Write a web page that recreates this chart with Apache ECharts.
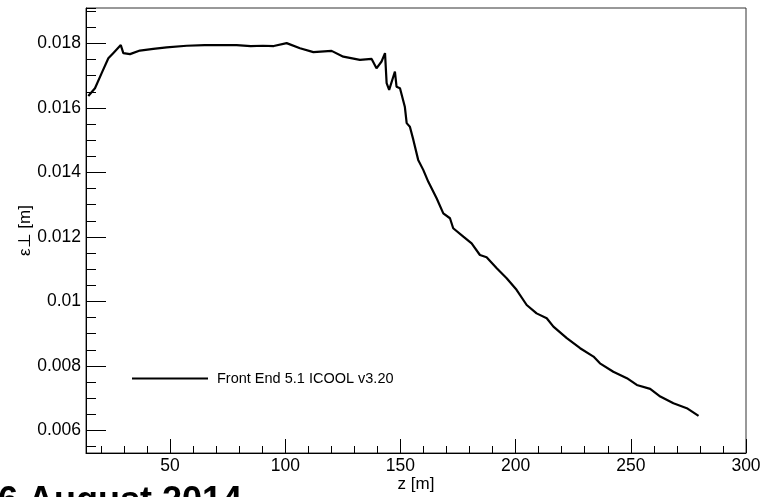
<!DOCTYPE html>
<html><head><meta charset="utf-8">
<script src="https://cdn.jsdelivr.net/npm/echarts@6/dist/echarts.min.js"></script>
<style>html,body{margin:0;padding:0;background:#fff;overflow:hidden}#c{width:769px;height:497px}</style>
</head><body><div id="c"></div>
<script>
const zValues = [14.5,17.4,20.3,23.2,25.3,28.6,29.7,32.6,36.9,42.7,48.5,57.2,65,78.9,85,90.3,95,100.6,106.4,112.2,120.1,125.2,132.4,137.5,139.6,141.8,143.3,144.0,145.1,147.6,148.3,149.8,151.9,152.7,154.1,155.6,157.7,159.9,162.1,165.7,168.6,171.5,172.9,177.3,180.9,184.5,187.4,191.8,196.1,200.4,204.8,209.1,213.5,216.4,222.2,228.0,233.8,236.6,242.4,248.3,252.6,258.4,262.8,268.5,274.3,279.4];
const emittance = [0.01637,0.01661,0.01708,0.01754,0.01770,0.01795,0.01770,0.01767,0.01778,0.01783,0.01788,0.01793,0.01795,0.01795,0.01792,0.01793,0.01792,0.01801,0.01785,0.01773,0.01777,0.01759,0.01749,0.01752,0.01723,0.01744,0.01770,0.01677,0.01656,0.01713,0.01666,0.01661,0.01604,0.01553,0.01542,0.01501,0.01439,0.01408,0.01371,0.01320,0.01273,0.01258,0.01227,0.01201,0.01180,0.01144,0.01137,0.01103,0.01072,0.01036,0.00989,0.00963,0.00948,0.00922,0.00886,0.00855,0.00829,0.00808,0.00782,0.00762,0.00741,0.00729,0.00705,0.00684,0.00669,0.00645];
const xTickLabels = [50,100,150,200,250,300];
const yTickLabels = [0.006,0.008,0.01,0.012,0.014,0.016,0.018];
const seriesName = 'Front End 5.1 ICOOL v3.20';

const FONT = '"Liberation Sans", Arial, Helvetica, sans-serif';
const X_MIN = 13.5, X_MAX = 300, Y_MIN = 0.0053, Y_MAX = 0.0191;
const isTick = (arr, v) => arr.some(t => Math.abs(t - v) < 1e-9);

const chart = echarts.init(document.getElementById('c'), null, {renderer: 'canvas'});
chart.setOption({
  animation: false,
  backgroundColor: '#fff',
  grid: {left: 86, right: 23, top: 8, bottom: 44, show: true, borderColor: '#333', borderWidth: 1,
    containLabel: false, outerBoundsMode: 'none'},
  legend: {
    left: 127, top: 366, itemWidth: 76, itemHeight: 2, icon: 'rect',
    data: [{name: seriesName, icon: 'rect'}],
    textStyle: {fontFamily: FONT, fontSize: 14.5, color: '#000', padding: [0, 0, 0, 4]}
  },
  xAxis: [{
    type: 'value', position: 'bottom', min: X_MIN, max: X_MAX, minInterval: 50, maxInterval: 50,
    name: 'z [m]', nameLocation: 'middle', nameGap: 23, nameMoveOverlap: false,
    nameTextStyle: {fontFamily: FONT, fontSize: 17, color: '#000'},
    axisLine: {show: true, onZero: false, lineStyle: {color: '#000', width: 1}},
    axisTick: {show: true, inside: true, length: 14, lineStyle: {color: '#000'}},
    axisLabel: {show: true, margin: 4, fontFamily: FONT, fontSize: 17.5, color: '#000', showMinLabel: false, showMaxLabel: true,
      formatter: v => isTick(xTickLabels, v) ? String(v) : ''},
    splitLine: {show: false}
  }, {
    type: 'value', position: 'bottom', min: X_MIN, max: X_MAX, minInterval: 10, maxInterval: 10,
    axisLine: {show: false}, axisLabel: {show: false}, splitLine: {show: false},
    axisTick: {show: true, inside: true, length: 7, lineStyle: {color: '#000'}}
  }],
  yAxis: [{
    type: 'value', position: 'left', min: Y_MIN, max: Y_MAX, minInterval: 0.002, maxInterval: 0.002,
    name: 'ε⊥ [m]', nameLocation: 'middle', nameGap: 52, nameRotate: 90, nameMoveOverlap: false,
    nameTextStyle: {fontFamily: FONT, fontSize: 17, color: '#000'},
    axisLine: {show: true, onZero: false, lineStyle: {color: '#000', width: 1}},
    axisTick: {show: true, inside: true, length: 20, lineStyle: {color: '#000'}},
    axisLabel: {show: true, margin: 5, fontFamily: FONT, fontSize: 17.5, color: '#000', showMinLabel: false, showMaxLabel: false,
      formatter: v => isTick(yTickLabels, v) ? String(+v.toFixed(4)) : ''},
    splitLine: {show: false}
  }, {
    type: 'value', position: 'left', min: Y_MIN, max: Y_MAX, minInterval: 0.0005, maxInterval: 0.0005,
    axisLine: {show: false}, axisLabel: {show: false}, splitLine: {show: false},
    axisTick: {show: true, inside: true, length: 10, lineStyle: {color: '#000'}}
  }],
  series: [{
    name: seriesName, type: 'line', xAxisIndex: 0, yAxisIndex: 0,
    data: zValues.map((z, i) => [z, emittance[i]]),
    showSymbol: false, symbol: 'none',
    lineStyle: {color: '#000', width: 2.2}, itemStyle: {color: '#000'}
  }],
  graphic: [{
    type: 'text', x: -2, y: 484,
    style: {text: '6 August 2014', font: 'bold 36px ' + FONT, fill: '#000', verticalAlign: 'top'}
  }]
});
</script></body></html>
